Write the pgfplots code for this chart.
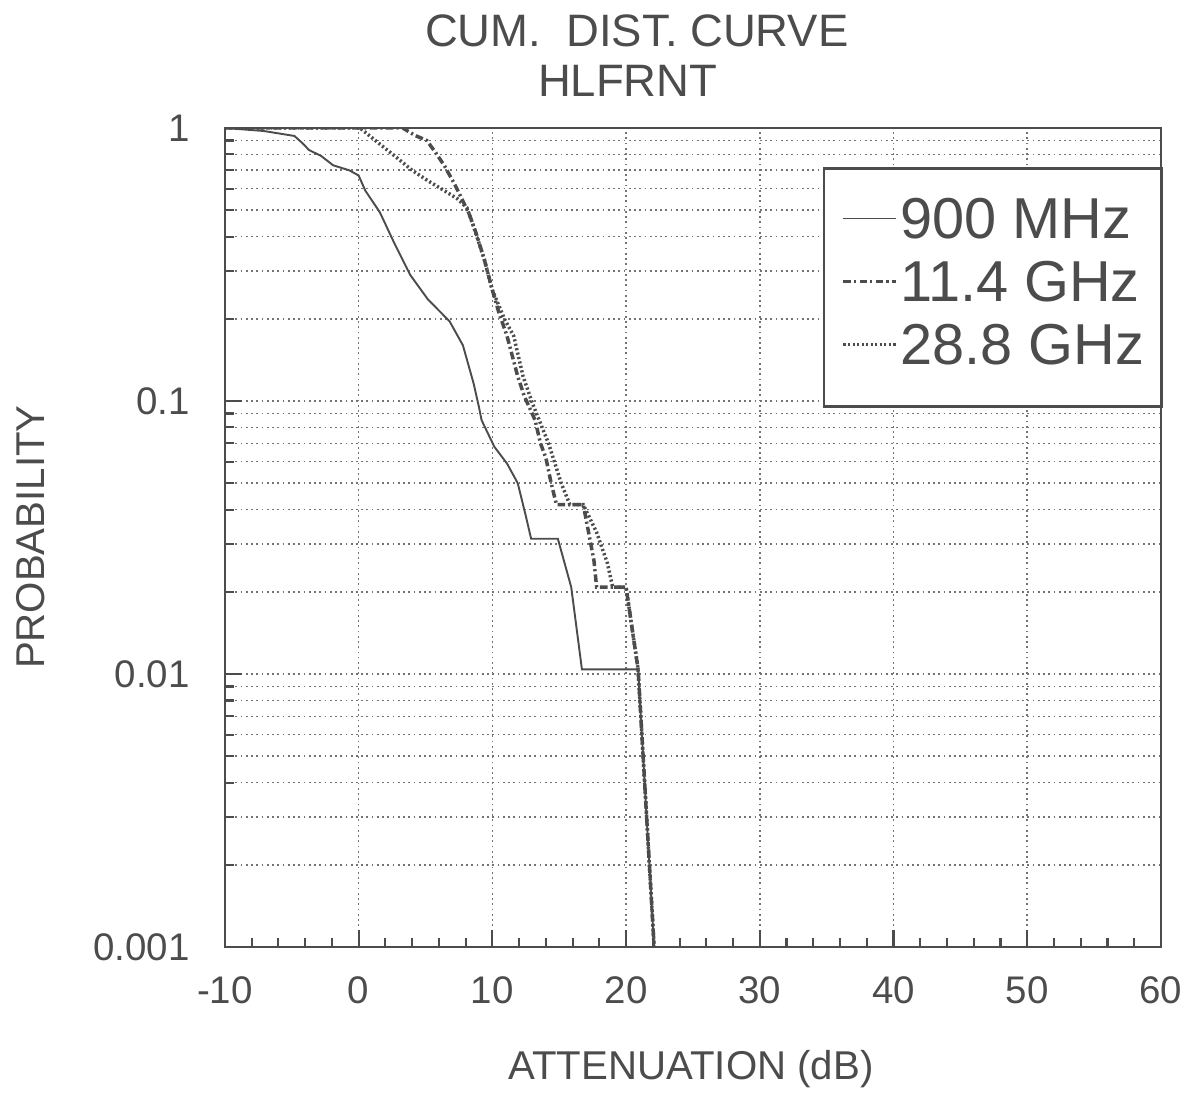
\documentclass[border=0pt]{standalone}
\usepackage{pgfplots}
\pgfplotsset{compat=1.18}
\usepackage{fontspec}
\setmainfont{Liberation Sans}
\definecolor{ink}{gray}{0.3}
\definecolor{gridc}{gray}{0.45}

\begin{document}
\begin{tikzpicture}
\useasboundingbox (-64.3pt,-41.75pt) rectangle (275.7pt,270.8pt);
\begin{semilogyaxis}[
    at={(0,0)}, anchor=south west,
    scale only axis, width=267.7pt, height=234.2pt,
    xmin=-10, xmax=60, ymin=0.001, ymax=1,
    xtick={-10,0,10,20,30,40,50,60}, xticklabels={-10,0,10,20,30,40,50,60},
    minor x tick num=4,
    ytick={0.001,0.01,0.1,1}, yticklabels={0.001,0.01,0.1,1},
    minor ytick={0.002,0.003,0.004,0.005,0.006,0.007,0.008,0.009,
                 0.02,0.03,0.04,0.05,0.06,0.07,0.08,0.09,
                 0.2,0.3,0.4,0.5,0.6,0.7,0.8,0.9},
    tick pos=left, tick align=inside,
    major tick length=4.8pt, minor tick length=2.6pt,
    xmajorgrids, ymajorgrids, yminorgrids,
    grid style={gridc, line width=0.45pt, dash pattern=on 0.5pt off 1pt},
    axis line style={ink, line width=0.7pt},
    every tick/.style={ink, line width=0.6pt},
    tick label style={font=\fontsize{11}{13}\selectfont, text=ink},
    xticklabel style={yshift=-5pt},
    yticklabel style={xshift=-6.5pt},
    legend style={at={(rel axis cs:1.002,0.952)}, anchor=north east,
      draw=ink, line width=0.7pt, fill=white, inner xsep=5pt, inner ysep=7pt,
      font=\fontsize{16.5}{20}\selectfont, text=ink, cells={anchor=west},
      nodes={inner sep=0pt, text height=13pt, text depth=5pt}, column sep=0.8pt},
    legend image code/.code={\draw[#1] (0pt,1.7pt) -- (15pt,1.7pt);},
  ]
  % 900 MHz
  \addplot[ink, line width=0.55pt] coordinates {
    (-10,1) (-7.1,0.975) (-4.8,0.935) (-4.2,0.88) (-3.7,0.83) (-2.8,0.79)
    (-1.9,0.73) (-0.7,0.70) (0,0.67) (0.5,0.59) (1.6,0.49) (2.6,0.385)
    (3.85,0.29) (5.2,0.235) (6.8,0.196) (7.8,0.16) (8.6,0.116) (9.0,0.095)
    (9.2,0.085) (10.15,0.068) (11.1,0.059) (11.9,0.050) (12.5,0.038)
    (12.9,0.0313) (14.9,0.0313) (15.9,0.0208) (16.7,0.0104) (20.9,0.0104)
    (22.1,0.001)
  };
  \addlegendentry{900 MHz}
  % 11.4 GHz
  \addplot[ink, line width=1pt, dash pattern=on 2.2pt off 0.9pt on 0.6pt off 0.9pt] coordinates {
    (-10,1) (3.3,1) (4.2,0.94) (5.1,0.90) (5.7,0.82) (6.4,0.73) (7.2,0.62)
    (7.8,0.54) (8.3,0.48) (8.8,0.41) (9.4,0.33) (10.0,0.255) (10.5,0.21)
    (11.1,0.173) (11.9,0.123) (12.4,0.104) (13.2,0.085) (13.6,0.070)
    (14.0,0.062) (14.4,0.050) (14.8,0.0417) (16.8,0.0417) (17.2,0.033)
    (17.6,0.026) (17.8,0.0208) (20.0,0.0208) (20.9,0.0104) (22.1,0.001)
  };
  \addlegendentry{11.4 GHz}
  % 28.8 GHz
  \addplot[ink, line width=1pt, dash pattern=on 0.6pt off 0.7pt] coordinates {
    (-10,1) (0.1,1) (1.5,0.88) (2.7,0.79) (4.0,0.70) (5.2,0.64) (6.4,0.59)
    (7.4,0.55) (8.1,0.51) (8.5,0.45) (9.4,0.33) (10.0,0.255) (10.9,0.20)
    (11.6,0.173) (12.3,0.123) (13.0,0.098) (14.2,0.070) (15.15,0.050)
    (15.8,0.0417) (16.8,0.0417) (17.8,0.033) (18.6,0.0255) (19.0,0.0208)
    (20.0,0.0208) (20.9,0.0104) (22.1,0.001)
  };
  \addlegendentry{28.8 GHz}
\end{semilogyaxis}
\node[anchor=base, text=ink, font=\fontsize{13}{15}\selectfont] at (117.8pt,257.4pt) {CUM.\ \ DIST. CURVE};
\node[anchor=base, text=ink, font=\fontsize{13}{15}\selectfont] at (115.2pt,243.1pt) {HLFRNT};
\node[anchor=base, text=ink, font=\fontsize{11.5}{13}\selectfont] at (133.3pt,-38.0pt) {ATTENUATION (dB)};
\node[anchor=base, rotate=90, text=ink, font=\fontsize{11.5}{13}\selectfont] at (-51.5pt,117.2pt) {PROBABILITY};
\end{tikzpicture}
\end{document}
